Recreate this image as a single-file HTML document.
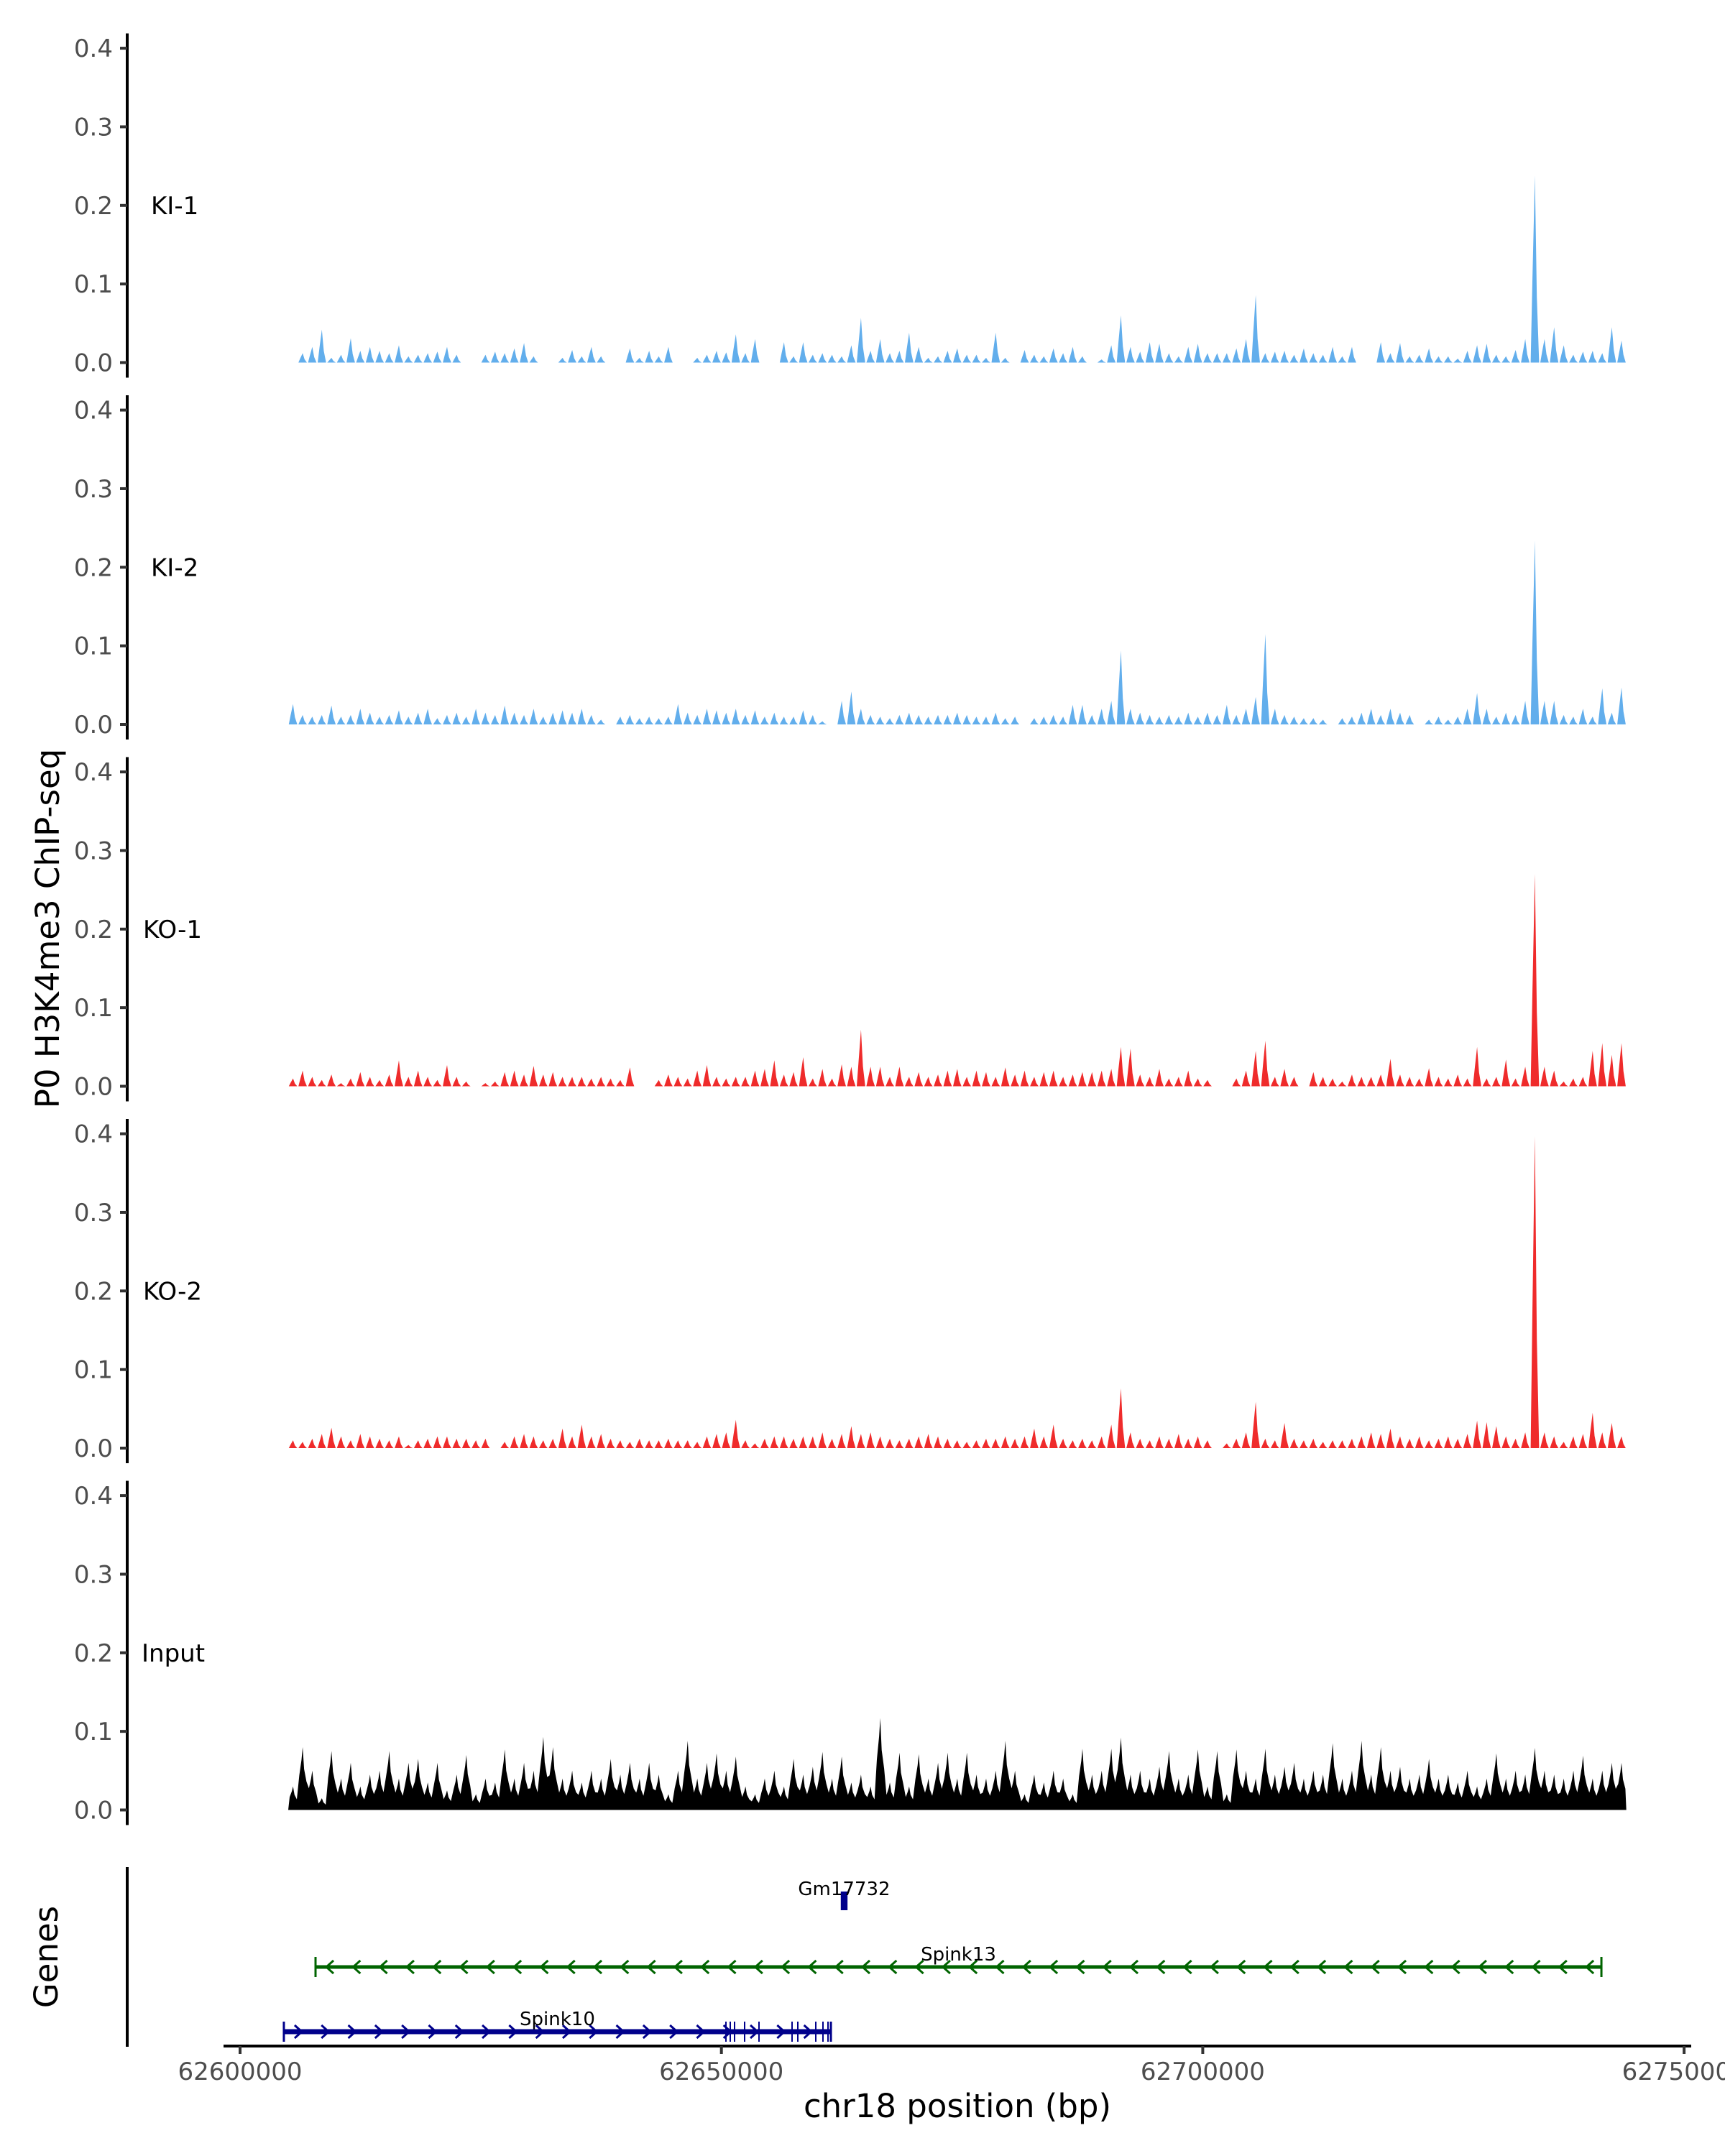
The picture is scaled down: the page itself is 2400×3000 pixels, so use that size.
<!DOCTYPE html>
<html><head><meta charset="utf-8"><style>
html,body{margin:0;padding:0;background:#fff}
svg{display:block}
text{font-family:"DejaVu Sans","Liberation Sans",sans-serif}
</style></head><body>
<svg id="chart" width="2400" height="3000" viewBox="0 0 2400 3000" xmlns="http://www.w3.org/2000/svg">
<g id="tracks"></g>
<g id="genes"></g>
<g id="axes"></g>
<text x="0" y="0" font-size="45" text-anchor="middle" fill="#000" transform="translate(82,1292) rotate(-90)">P0 H3K4me3 ChIP-seq</text>
<text x="0" y="0" font-size="45" text-anchor="middle" fill="#000" transform="translate(80,2723) rotate(-90)">Genes</text>
<text x="1332" y="2946" font-size="45" text-anchor="middle" fill="#000">chr18 position (bp)</text>
</svg>
<script>
const trackNames = ["KI-1","KI-2","KO-1","KO-2","Input"];
const trackColors = ["#62aeec","#62aeec","#ef2b2b","#ef2b2b","#000000"];
const binStart = 62605000;
const binSize = 1000;
const yTicks = [0.0,0.1,0.2,0.3,0.4];
const yTickLabels = ["0.0","0.1","0.2","0.3","0.4"];
const xTicks = [62600000,62650000,62700000,62750000];
const xTickLabels = ["62600000","62650000","62700000","62750000"];
const ki1 = [0,0.012,0.02,0.042,0.006,0.01,0.031,0.015,0.02,0.015,0.012,0.022,0.008,0.01,0.012,0.014,0.02,0.01,0,0,0.01,0.014,0.012,0.018,0.025,0.008,0,0,0.006,0.016,0.008,0.02,0.008,0,0,0.018,0.006,0.015,0.008,0.02,0,0,0.006,0.01,0.015,0.013,0.036,0.012,0.03,0,0,0.026,0.008,0.026,0.01,0.012,0.01,0.008,0.022,0.057,0.015,0.03,0.012,0.015,0.038,0.02,0.006,0.008,0.015,0.018,0.01,0.01,0.006,0.038,0.006,0,0.016,0.01,0.008,0.018,0.012,0.02,0.008,0,0.004,0.022,0.06,0.02,0.014,0.026,0.024,0.012,0.008,0.02,0.024,0.012,0.012,0.012,0.018,0.03,0.086,0.012,0.014,0.015,0.01,0.018,0.012,0.01,0.02,0.008,0.02,0,0,0.026,0.012,0.025,0.008,0.01,0.018,0.008,0.008,0.005,0.015,0.022,0.024,0.01,0.008,0.016,0.03,0.238,0.03,0.045,0.022,0.01,0.014,0.015,0.012,0.045,0.028];
const ki2 = [0.026,0.012,0.01,0.012,0.024,0.01,0.012,0.02,0.015,0.01,0.012,0.018,0.01,0.015,0.02,0.008,0.012,0.015,0.01,0.02,0.015,0.012,0.024,0.015,0.012,0.02,0.01,0.015,0.018,0.015,0.02,0.012,0.006,0,0.01,0.012,0.008,0.01,0.008,0.01,0.026,0.015,0.012,0.02,0.018,0.015,0.02,0.012,0.018,0.01,0.015,0.01,0.01,0.018,0.012,0.004,0,0.03,0.042,0.02,0.012,0.01,0.008,0.012,0.015,0.012,0.01,0.012,0.012,0.015,0.012,0.01,0.01,0.015,0.008,0.01,0,0.008,0.01,0.012,0.01,0.025,0.025,0.012,0.02,0.03,0.094,0.02,0.015,0.012,0.01,0.012,0.01,0.015,0.01,0.015,0.012,0.025,0.012,0.02,0.035,0.115,0.02,0.012,0.01,0.008,0.008,0.006,0,0.008,0.01,0.015,0.02,0.012,0.02,0.015,0.012,0,0.006,0.01,0.006,0.01,0.02,0.04,0.02,0.01,0.015,0.012,0.03,0.234,0.03,0.03,0.012,0.01,0.02,0.01,0.046,0.015,0.047];
const ko1 = [0.01,0.02,0.012,0.008,0.015,0.004,0.01,0.018,0.012,0.008,0.015,0.033,0.012,0.02,0.012,0.008,0.027,0.012,0.006,0,0.004,0.006,0.018,0.02,0.015,0.026,0.015,0.018,0.012,0.012,0.012,0.01,0.012,0.01,0.008,0.024,0,0,0.008,0.015,0.012,0.01,0.02,0.027,0.012,0.01,0.012,0.012,0.02,0.022,0.033,0.015,0.018,0.037,0.01,0.022,0.01,0.028,0.025,0.072,0.025,0.025,0.012,0.025,0.012,0.018,0.012,0.015,0.02,0.022,0.012,0.02,0.018,0.012,0.024,0.015,0.02,0.012,0.018,0.02,0.012,0.015,0.018,0.018,0.02,0.022,0.05,0.048,0.015,0.012,0.022,0.01,0.012,0.02,0.01,0.008,0,0,0.01,0.02,0.045,0.058,0.012,0.022,0.012,0,0.018,0.012,0.01,0.006,0.015,0.012,0.012,0.015,0.035,0.015,0.012,0.01,0.023,0.012,0.01,0.015,0.01,0.05,0.01,0.012,0.034,0.01,0.025,0.27,0.025,0.02,0.006,0.01,0.012,0.045,0.055,0.04,0.055];
const ko2 = [0.01,0.008,0.012,0.018,0.026,0.015,0.01,0.018,0.015,0.012,0.01,0.015,0.004,0.01,0.012,0.015,0.015,0.012,0.012,0.01,0.012,0,0.008,0.015,0.018,0.015,0.01,0.012,0.025,0.015,0.03,0.015,0.018,0.012,0.01,0.008,0.012,0.01,0.01,0.012,0.01,0.01,0.008,0.015,0.018,0.02,0.036,0.01,0.006,0.012,0.015,0.015,0.012,0.015,0.015,0.02,0.012,0.018,0.028,0.018,0.02,0.015,0.012,0.01,0.012,0.015,0.018,0.015,0.012,0.01,0.008,0.01,0.012,0.012,0.015,0.012,0.015,0.025,0.015,0.03,0.012,0.01,0.012,0.01,0.015,0.03,0.076,0.02,0.012,0.01,0.015,0.012,0.018,0.012,0.015,0.01,0,0.006,0.012,0.02,0.059,0.012,0.01,0.032,0.012,0.01,0.012,0.008,0.01,0.01,0.012,0.015,0.02,0.018,0.025,0.015,0.012,0.015,0.01,0.012,0.015,0.012,0.018,0.035,0.033,0.028,0.015,0.012,0.02,0.397,0.02,0.015,0.008,0.015,0.018,0.045,0.02,0.032,0.015];
const inputSig = [0.03,0.08,0.05,0.015,0.075,0.04,0.06,0.03,0.045,0.05,0.075,0.04,0.06,0.065,0.035,0.06,0.025,0.045,0.07,0.02,0.04,0.035,0.077,0.04,0.06,0.05,0.093,0.08,0.04,0.05,0.035,0.05,0.04,0.065,0.045,0.06,0.04,0.06,0.045,0.02,0.05,0.088,0.04,0.06,0.072,0.05,0.068,0.03,0.02,0.04,0.05,0.03,0.065,0.045,0.055,0.074,0.04,0.068,0.035,0.045,0.03,0.117,0.035,0.073,0.03,0.071,0.04,0.06,0.073,0.04,0.073,0.045,0.04,0.05,0.088,0.05,0.02,0.045,0.035,0.05,0.04,0.02,0.078,0.045,0.05,0.078,0.092,0.045,0.05,0.04,0.055,0.075,0.04,0.045,0.077,0.03,0.075,0.02,0.077,0.05,0.04,0.078,0.045,0.055,0.06,0.04,0.05,0.045,0.085,0.04,0.05,0.088,0.045,0.08,0.05,0.055,0.04,0.045,0.065,0.04,0.045,0.035,0.05,0.03,0.04,0.072,0.04,0.05,0.045,0.079,0.05,0.045,0.04,0.05,0.069,0.04,0.05,0.06,0.06];
const geneNames = ["Gm17732","Spink13","Spink10"];
const geneStarts = [62662400,62607840,62604550];
const geneEnds = [62663100,62741410,62661370];
const geneStrands = [1,-1,1];
const geneColors = ["#00008b","#006400","#00008b"];

const NS="http://www.w3.org/2000/svg";
function mk(t,a,p){const e=document.createElementNS(NS,t);for(const k in a)e.setAttribute(k,a[k]);p.appendChild(e);return e;}
const xScale = v => 334 + (v-62600000)*0.013394;
const baseY = i => 504.5 + i*503.5;
const yScale = (i,v) => baseY(i) - v*1093.5;
const tracks=document.getElementById('tracks');
const axes=document.getElementById('axes');
const genesG=document.getElementById('genes');
const series=[ki1,ki2,ko1,ko2,inputSig];

series.forEach((arr,ti)=>{
  const g=mk('g',{},tracks);
  
  
  const half=binSize/2;
  let d='';
  if(ti===4){
    d='M'+xScale(binStart).toFixed(1)+','+baseY(ti);
    arr.forEach((v,i)=>{
      const l=binStart+i*binSize, c=l+half;
      d+=' L'+xScale(l+150).toFixed(1)+','+yScale(ti,v*0.55).toFixed(1);
      d+=' L'+xScale(c-120).toFixed(1)+','+yScale(ti,v*0.8).toFixed(1);
      d+=' L'+xScale(c).toFixed(1)+','+yScale(ti,v).toFixed(1);
      d+=' L'+xScale(c+150).toFixed(1)+','+yScale(ti,v*0.65).toFixed(1);
      d+=' L'+xScale(l+binSize-100).toFixed(1)+','+yScale(ti,v*0.45).toFixed(1);
    });
    d+=' L'+xScale(binStart+arr.length*binSize).toFixed(1)+','+baseY(ti)+' Z';
  } else {
    arr.forEach((v,i)=>{ if(v<=0) return;
      const l=binStart+i*binSize, c=l+half, r=l+binSize;
      d+='M'+xScale(l+60).toFixed(1)+','+baseY(ti)+' L'+xScale(l+250).toFixed(1)+','+yScale(ti,v*0.45).toFixed(1)+' L'+xScale(c).toFixed(1)+','+yScale(ti,v).toFixed(1)+' L'+xScale(c+200).toFixed(1)+','+yScale(ti,v*0.35).toFixed(1)+' L'+xScale(r-60).toFixed(1)+','+baseY(ti)+' Z ';
    });
  }
  const p=mk('path',{d:d,fill:trackColors[ti]},g);
  
  
  const ax=mk('line',{x1:177,x2:177,y1:baseY(ti)-458,y2:baseY(ti)+21,stroke:'#000','stroke-width':4},axes);
  
  
  yTicks.forEach((t,k)=>{
    const y=yScale(ti,t);
    const tl=mk('line',{x1:167,x2:177,y1:y,y2:y,stroke:'#333','stroke-width':4},axes);
    
    
    const tx=mk('text',{x:157,y:y+12,'font-size':34,'text-anchor':'end',fill:'#4d4d4d'},axes);
    
    
    tx.textContent=yTickLabels[k];
  });
  const lab=mk('text',{x:ti<2?210:(ti<4?199:197),y:yScale(ti,0.2)+12,'font-size':34,fill:'#000'},axes);
  
  
  lab.textContent=trackNames[ti];
});

const gy=mk('line',{x1:177,x2:177,y1:2598,y2:2848,stroke:'#000','stroke-width':4},axes);


const gx=mk('line',{x1:311,x2:2353,y1:2847,y2:2847,stroke:'#000','stroke-width':4},axes);


xTicks.forEach((t,k)=>{
  const x=xScale(t);
  const tl=mk('line',{x1:x,x2:x,y1:2847,y2:2858,stroke:'#333','stroke-width':4},axes);
  
  
  const tx=mk('text',{x:x,y:2894,'font-size':34,'text-anchor':'middle',fill:'#4d4d4d'},axes);
  
  
  tx.textContent=xTickLabels[k];
});

const geneRowY=[2645,2737,2827];
const labelY=[2637,2728,2818];
geneNames.forEach((n,gi)=>{
  const g=mk('g',{},genesG);
  
  
  const x1=xScale(geneStarts[gi]), x2=xScale(geneEnds[gi]), y=geneRowY[gi], col=geneColors[gi];
  if(gi===0){
    mk('rect',{x:x1,y:y-13,width:Math.max(8,x2-x1),height:26,fill:col},g);
  } else {
    mk('line',{x1:x1,x2:x2,y1:y,y2:y,stroke:col,'stroke-width':gi===2?7:5},g);
    mk('line',{x1:x1,x2:x1,y1:y-14,y2:y+14,stroke:col,'stroke-width':3},g);
    mk('line',{x1:x2,x2:x2,y1:y-14,y2:y+14,stroke:col,'stroke-width':3},g);
    let ch='';
    for(let x=x1+20;x<x2-5;x+=37.3){
      const s=geneStrands[gi];
      ch+='M'+(x-5*s)+','+(y-9)+' L'+(x+5*s)+','+y+' L'+(x-5*s)+','+(y+9)+' ';
    }
    mk('path',{d:ch,stroke:col,'stroke-width':3,fill:'none'},g);
    if(gi===2){
      [1010,1016,1022,1036,1056,1102,1110,1135,1145,1152].forEach(ex=>mk('line',{x1:ex,x2:ex,y1:y-14,y2:y+14,stroke:col,'stroke-width':2},g));
    }
  }
  const t=mk('text',{x:(x1+x2)/2,y:labelY[gi],'font-size':26,'text-anchor':'middle',fill:'#000'},g);
  
  
  t.textContent=n;
});
</script>
</body></html>
